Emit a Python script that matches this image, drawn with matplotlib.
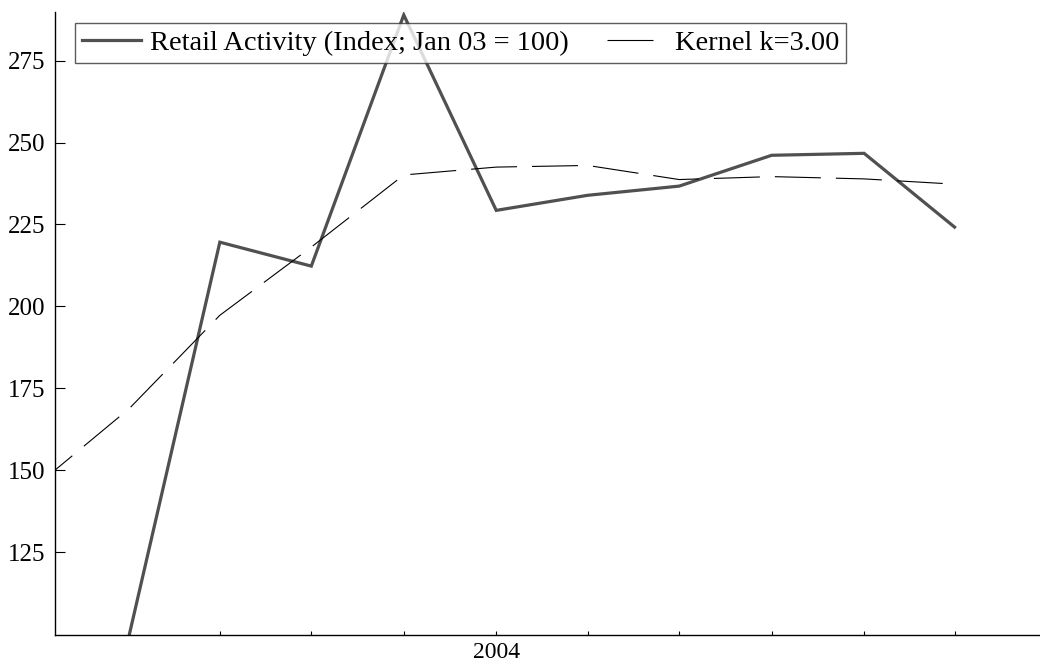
import matplotlib
matplotlib.use("Agg")
import matplotlib.pyplot as plt
import matplotlib.dates as mdates
import datetime as dt

plt.rcParams['font.family'] = ['Liberation Serif', 'DejaVu Serif']

# data (quarterly)
retail_dates = ["2003-01-01", "2003-04-01", "2003-07-01", "2003-10-01", "2004-01-01",
                "2004-04-01", "2004-07-01", "2004-10-01", "2005-01-01", "2005-04-01"]
retail_values = [100.0, 219.6, 212.3, 288.9, 229.3, 233.9, 236.7, 246.1, 246.7, 224.2]

kernel_dates = ["2002-10-01", "2003-01-01", "2003-04-01", "2003-07-01", "2003-10-01", "2004-01-01",
                "2004-04-01", "2004-07-01", "2004-10-01", "2005-01-01", "2005-04-01"]
kernel_values = [145.5, 168.9, 197.3, 218.1, 240.1, 242.5, 243.0, 238.7, 239.6, 238.9, 237.3]

tick_dates = retail_dates
tick_labels = ["", "", "", "", "2004", "", "", "", "", ""]
y_ticks = [125, 150, 175, 200, 225, 250, 275]

def to_dt(s):
    return dt.datetime.strptime(s, "%Y-%m-%d")

rd = [to_dt(s) for s in retail_dates]
kd = [to_dt(s) for s in kernel_dates]
td = [to_dt(s) for s in tick_dates]

fig = plt.figure(figsize=(10.4, 6.62), dpi=100)
ax = fig.add_axes([55/1040, 1 - 635/662, (1040 - 55)/1040, (635 - 12)/662])

ax.plot(rd, retail_values, color='#505050', lw=2.3, solid_joinstyle='miter',
        label='Retail Activity (Index; Jan 03 = 100)')
kl, = ax.plot(kd, kernel_values, color='black', lw=0.8, label='Kernel k=3.00')
kl.set_dashes([46 / 1.389 / 0.8, 15 / 1.389 / 0.8])

ax.set_xlim(to_dt("2002-10-19"), to_dt("2005-06-25"))
ax.set_ylim(99.8, 289.8)

ax.set_xticks(mdates.date2num(td))
ax.set_xticklabels(tick_labels)
ax.set_yticks(y_ticks)

for s in ['top', 'right']:
    ax.spines[s].set_visible(False)
for s in ['left', 'bottom']:
    ax.spines[s].set_linewidth(1.0)
    ax.spines[s].set_color('black')

ax.tick_params(axis='y', direction='in', length=7.2, width=0.8, pad=7, labelsize=18)
ax.tick_params(axis='x', direction='in', length=3, width=0.8, pad=5, labelsize=17)

leg = ax.legend(loc='upper left', bbox_to_anchor=(75/1040, 1 - 23/662),
                bbox_transform=fig.transFigure, borderaxespad=0, ncol=2,
                fontsize=20.5, frameon=True, fancybox=False, handlelength=2.07,
                handletextpad=0.32, columnspacing=1.33, borderpad=0.25)
leg.get_frame().set_edgecolor('#333333')
leg.get_frame().set_linewidth(1.0)

fig.savefig("out.png", dpi=100)
